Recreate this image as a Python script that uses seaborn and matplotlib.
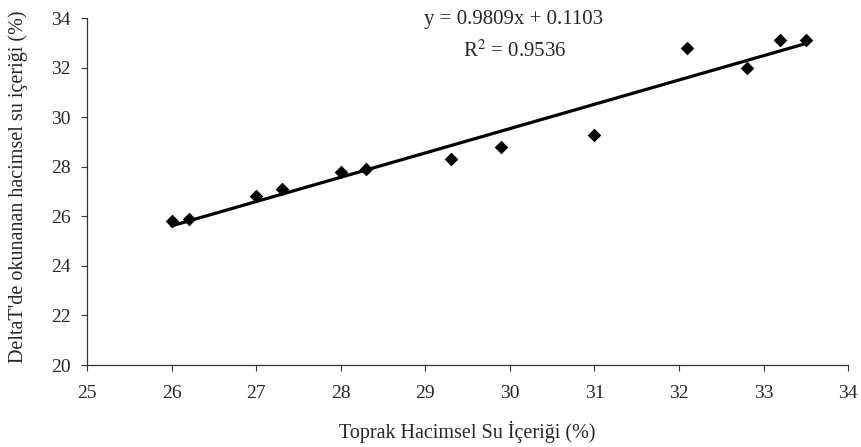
import matplotlib
matplotlib.use("Agg")
import matplotlib.pyplot as plt
import pandas as pd
import seaborn as sns

toprak = [26.0, 26.2, 27.0, 27.3, 28.0, 28.3, 29.3, 29.9, 31.0, 32.1, 32.8, 33.2, 33.5]
deltat = [25.8, 25.9, 26.8, 27.1, 27.8, 27.9, 28.3, 28.8, 29.3, 32.8, 32.0, 33.1, 33.1]
slope, intercept, r2 = 0.9809, 0.1103, 0.9536
x_ticks = list(range(25, 35))
y_ticks = list(range(20, 35, 2))

df = pd.DataFrame({"toprak": toprak, "deltat": deltat})
trend = pd.DataFrame({"x": [min(toprak), max(toprak)]})
trend["y"] = slope * trend["x"] + intercept

sns.set_style("ticks")
plt.rcParams["font.family"] = ["Liberation Serif", "DejaVu Serif"]
plt.rcParams["mathtext.fontset"] = "stix"

fig = plt.figure(figsize=(8.61, 4.47), dpi=100)
ax = fig.add_axes([0.1011, 0.1834, 0.8839, 0.7763])

sns.lineplot(x="x", y="y", data=trend, color="black", linewidth=2.3, ax=ax)
sns.scatterplot(x="toprak", y="deltat", data=df, marker="D", s=48,
                color="black", edgecolor="black", linewidth=0, ax=ax, zorder=3)

ax.set(xlim=(25, 34), ylim=(20, 34))
ax.set_xticks(x_ticks)
ax.set_yticks(y_ticks)
ax.tick_params(labelsize=14, length=4.2, width=0.8, color="#333333", direction="out")
ax.tick_params(axis="x", pad=10)
ax.tick_params(axis="y", pad=7.5)
for side in ["top", "right"]:
    ax.spines[side].set_visible(False)
for side in ["left", "bottom"]:
    ax.spines[side].set_color("#333333")
    ax.spines[side].set_linewidth(0.9)

ax.set_xlabel("Toprak Hacimsel Su İçeriği (%)", fontsize=14.5, labelpad=14)
ax.set_ylabel("DeltaT'de okunanan hacimsel su içeriği (%)", fontsize=14.5)
ax.yaxis.set_label_coords(-0.077, 0.513)

ax.text(0.561, 0.996, f"y = {slope}x + {intercept}", transform=ax.transAxes,
        ha="center", va="center", fontsize=15, clip_on=False)
ax.text(0.562, 0.904, f"R$^2$ = {r2}", transform=ax.transAxes,
        ha="center", va="center", fontsize=15)

fig.savefig("out.png", dpi=100)
